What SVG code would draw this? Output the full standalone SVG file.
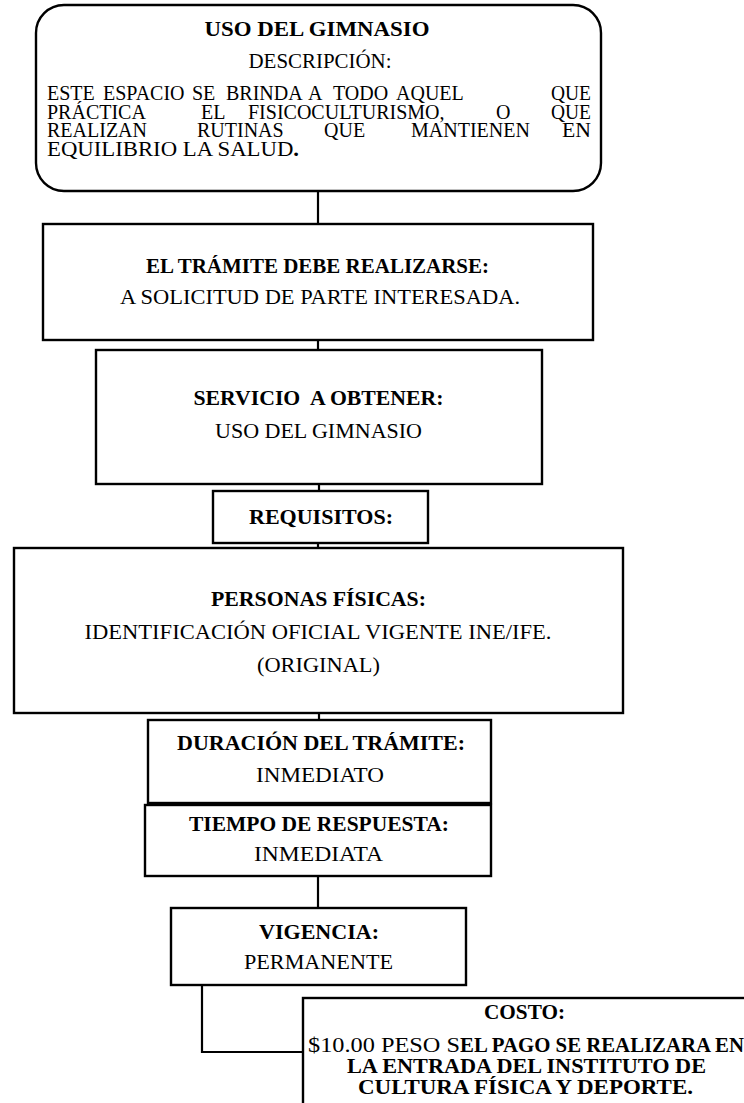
<svg xmlns="http://www.w3.org/2000/svg" width="744" height="1103" viewBox="0 0 744 1103">
<style>
.box{fill:#fff;stroke:#000;stroke-width:2.4}
.ln{fill:none;stroke:#000;stroke-width:2.2}
text{font-family:"Liberation Serif","Times New Roman",serif;font-size:21px;fill:#000}
.p{font-size:20px}
.s{font-size:20px}
.c{text-anchor:middle}
.b{font-weight:bold}
</style>
<rect width="744" height="1103" fill="#fff"/>
<g id="connectors">
<line class="ln" x1="318" y1="191" x2="318" y2="224"/>
<line class="ln" x1="318" y1="340" x2="318" y2="350"/>
<line class="ln" x1="319" y1="484" x2="319" y2="491"/>
<line class="ln" x1="318" y1="543" x2="318" y2="548"/>
<line class="ln" x1="319" y1="713" x2="319" y2="720"/>
<line class="ln" x1="318" y1="876" x2="318" y2="908"/>
<polyline class="ln" points="202,985 202,1052 303,1052"/>
</g>
<g id="n1">
<rect class="box" x="36" y="5" width="565" height="186" rx="28"/>
<text class="c b" x="317" y="36" textLength="225" lengthAdjust="spacingAndGlyphs">USO DEL GIMNASIO</text>
<text class="c" x="320" y="68" textLength="143" lengthAdjust="spacingAndGlyphs">DESCRIPCIÓN:</text>
<text class="p" x="47" y="100">ESTE</text><text class="p" x="103" y="100">ESPACIO</text><text class="p" x="192" y="100">SE</text><text class="p" x="226" y="100">BRINDA</text><text class="p" x="308" y="100">A</text><text class="p" x="333" y="100">TODO</text><text class="p" x="396" y="100">AQUEL</text><text class="p" x="551" y="100" textLength="40" lengthAdjust="spacingAndGlyphs">QUE</text>
<text class="p" x="47" y="118.5">PRÁCTICA</text><text class="p" x="201" y="118.5">EL</text><text class="p" x="248" y="118.5">FISICOCULTURISMO,</text><text class="p" x="496" y="118.5">O</text><text class="p" x="551" y="118.5" textLength="40" lengthAdjust="spacingAndGlyphs">QUE</text>
<text class="p" x="47" y="137">REALIZAN</text><text class="p" x="197" y="137">RUTINAS</text><text class="p" x="324" y="137">QUE</text><text class="p" x="411" y="137">MANTIENEN</text><text class="p" x="562" y="137" textLength="29" lengthAdjust="spacingAndGlyphs">EN</text>
<text class="p" x="47" y="155.5" textLength="252" lengthAdjust="spacingAndGlyphs">EQUILIBRIO LA SALUD<tspan class="b">.</tspan></text>
</g>
<g id="n2">
<rect class="box" x="43" y="224" width="550" height="116"/>
<text class="c b" x="317.5" y="273" textLength="343" lengthAdjust="spacingAndGlyphs">EL TRÁMITE DEBE REALIZARSE:</text>
<text class="c" x="320" y="304" textLength="400" lengthAdjust="spacingAndGlyphs">A SOLICITUD DE PARTE INTERESADA.</text>
</g>
<g id="n3">
<rect class="box" x="96" y="350" width="446" height="134"/>
<text class="c b" x="318.5" y="405" textLength="250" lengthAdjust="spacingAndGlyphs" xml:space="preserve">SERVICIO  A OBTENER:</text>
<text class="c" x="318.5" y="438" textLength="207" lengthAdjust="spacingAndGlyphs">USO DEL GIMNASIO</text>
</g>
<g id="n4">
<rect class="box" x="213" y="491" width="215" height="52"/>
<text class="c b" x="321" y="524" textLength="144" lengthAdjust="spacingAndGlyphs">REQUISITOS:</text>
</g>
<g id="n5">
<rect class="box" x="14" y="548" width="609" height="165"/>
<text class="c b" x="318.5" y="606" textLength="215" lengthAdjust="spacingAndGlyphs">PERSONAS FÍSICAS:</text>
<text class="c" x="318" y="639" textLength="467" lengthAdjust="spacingAndGlyphs">IDENTIFICACIÓN OFICIAL VIGENTE INE/IFE.</text>
<text class="c" x="318.5" y="672" textLength="123" lengthAdjust="spacingAndGlyphs">(ORIGINAL)</text>
</g>
<g id="n6">
<rect class="box" x="148" y="720" width="343" height="83"/>
<text class="c b" x="321" y="750" textLength="288" lengthAdjust="spacingAndGlyphs">DURACIÓN DEL TRÁMITE:</text>
<text class="c" x="320" y="782" textLength="128" lengthAdjust="spacingAndGlyphs">INMEDIATO</text>
</g>
<g id="n7">
<rect class="box" x="145" y="805" width="346" height="71"/>
<text class="c b" x="319" y="831" textLength="260" lengthAdjust="spacingAndGlyphs">TIEMPO DE RESPUESTA:</text>
<text class="c" x="318.5" y="861" textLength="129" lengthAdjust="spacingAndGlyphs">INMEDIATA</text>
</g>
<g id="n8">
<rect class="box" x="171" y="908" width="295" height="77"/>
<text class="c b" x="319" y="939" textLength="120" lengthAdjust="spacingAndGlyphs">VIGENCIA:</text>
<text class="c" x="318.5" y="969" textLength="149" lengthAdjust="spacingAndGlyphs">PERMANENTE</text>
</g>
<g id="n9">
<rect class="box" x="303" y="998" width="470" height="130"/>
<text class="c b s" x="524.5" y="1019" textLength="81" lengthAdjust="spacingAndGlyphs">COSTO:</text>
<text class="s" x="308" y="1052" textLength="152" lengthAdjust="spacingAndGlyphs">$10.00 PESO S</text>
<text class="b s" x="460" y="1052" textLength="284" lengthAdjust="spacingAndGlyphs">EL PAGO SE REALIZARA EN</text>
<text class="c b s" x="526.5" y="1073" textLength="359" lengthAdjust="spacingAndGlyphs">LA ENTRADA DEL INSTITUTO DE</text>
<text class="c b s" x="525.5" y="1094" textLength="335" lengthAdjust="spacingAndGlyphs">CULTURA FÍSICA Y DEPORTE.</text>
</g>
</svg>
